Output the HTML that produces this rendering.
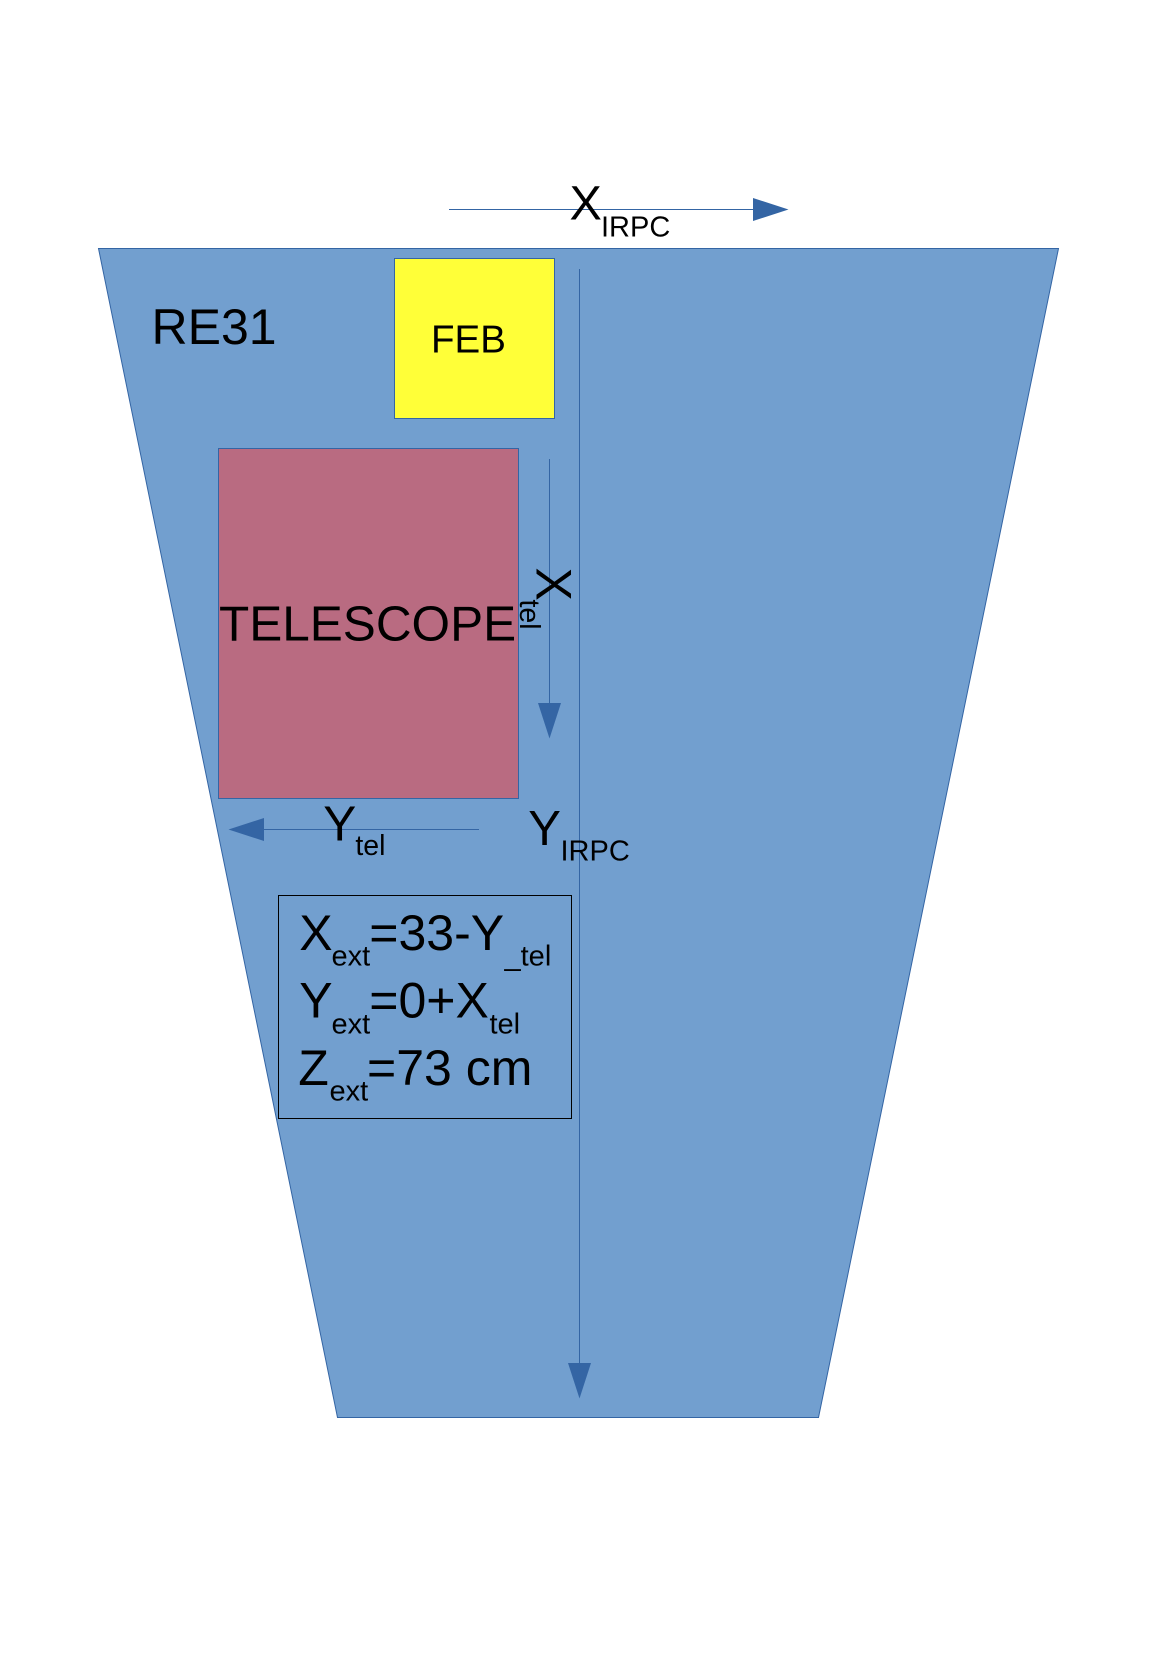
<!DOCTYPE html>
<html>
<head>
<meta charset="utf-8">
<style>
html,body{margin:0;padding:0;background:#fff;}
svg{display:block;}
text{font-family:"Liberation Sans",Arial,sans-serif;fill:#000;}
</style>
</head>
<body>
<svg width="1166" height="1654" viewBox="0 0 1166 1654" xmlns="http://www.w3.org/2000/svg">
  <rect x="0" y="0" width="1166" height="1654" fill="#ffffff"/>
  <!-- RE31 trapezoid -->
  <polygon points="98.5,248.5 1058.5,248.5 818.5,1417.5 337.5,1417.5" fill="#729fcf" stroke="#3465a4" stroke-width="1"/>

  <!-- X_IRPC arrow -->
  <line x1="449" y1="209.5" x2="756" y2="209.5" stroke="#3465a4" stroke-width="1"/>
  <polygon points="753,198 788.5,209.5 753,221" fill="#3465a4"/>
  <text x="569.5" y="219.3" font-size="48.5">X</text>
  <text x="601" y="236.7" font-size="29">IRPC</text>

  <!-- FEB -->
  <rect x="394.5" y="258.5" width="160" height="160" fill="#ffff38" stroke="#3465a4" stroke-width="1"/>
  <text x="431" y="352.3" font-size="38.5">FEB</text>

  <!-- RE31 label -->
  <text x="151.5" y="344" font-size="50">RE31</text>

  <!-- main vertical Y_IRPC arrow -->
  <line x1="579.5" y1="269" x2="579.5" y2="1366" stroke="#3465a4" stroke-width="1"/>
  <polygon points="568,1363 591,1363 579.5,1398.5" fill="#3465a4"/>

  <!-- TELESCOPE -->
  <rect x="218.5" y="448.5" width="300" height="350" fill="#b96b81" stroke="#3465a4" stroke-width="1"/>
  <text x="219" y="640.7" font-size="49.5">TELESCOPE</text>

  <!-- X_tel arrow -->
  <line x1="549.5" y1="459" x2="549.5" y2="706" stroke="#3465a4" stroke-width="1"/>
  <polygon points="538,703 561,703 549.5,738.5" fill="#3465a4"/>
  <text transform="translate(536.7,567.5) rotate(90)" x="0" y="0" font-size="50">X</text>
  <text transform="translate(520,599.5) rotate(90)" x="0" y="0" font-size="28.5">tel</text>

  <!-- Y_tel arrow -->
  <line x1="479" y1="829.5" x2="261" y2="829.5" stroke="#3465a4" stroke-width="1"/>
  <polygon points="264,818 264,841 228.5,829.5" fill="#3465a4"/>
  <text x="323.3" y="840.7" font-size="49.5">Y</text>
  <text x="355.4" y="855" font-size="28.5">tel</text>

  <!-- Y_IRPC label -->
  <text x="528.3" y="845" font-size="49">Y</text>
  <text x="560.5" y="860.7" font-size="29">IRPC</text>

  <!-- formula box -->
  <rect x="278.5" y="895.5" width="293" height="223" fill="none" stroke="#000" stroke-width="1"/>
  <text x="299.3" y="950" font-size="50">X</text>
  <text x="331.5" y="965.7" font-size="29">ext</text>
  <text x="369.3" y="950" font-size="50">=33-Y</text>
  <text x="504.5" y="965.7" font-size="29">_tel</text>

  <text x="299.3" y="1017.7" font-size="50">Y</text>
  <text x="331.5" y="1033.3" font-size="29">ext</text>
  <text x="369.3" y="1017.7" font-size="50">=0+X</text>
  <text x="489.5" y="1033.3" font-size="29">tel</text>

  <text x="298.3" y="1085" font-size="50">Z</text>
  <text x="329.5" y="1100.7" font-size="29">ext</text>
  <text x="367" y="1085" font-size="50">=73 cm</text>
</svg>
</body>
</html>
